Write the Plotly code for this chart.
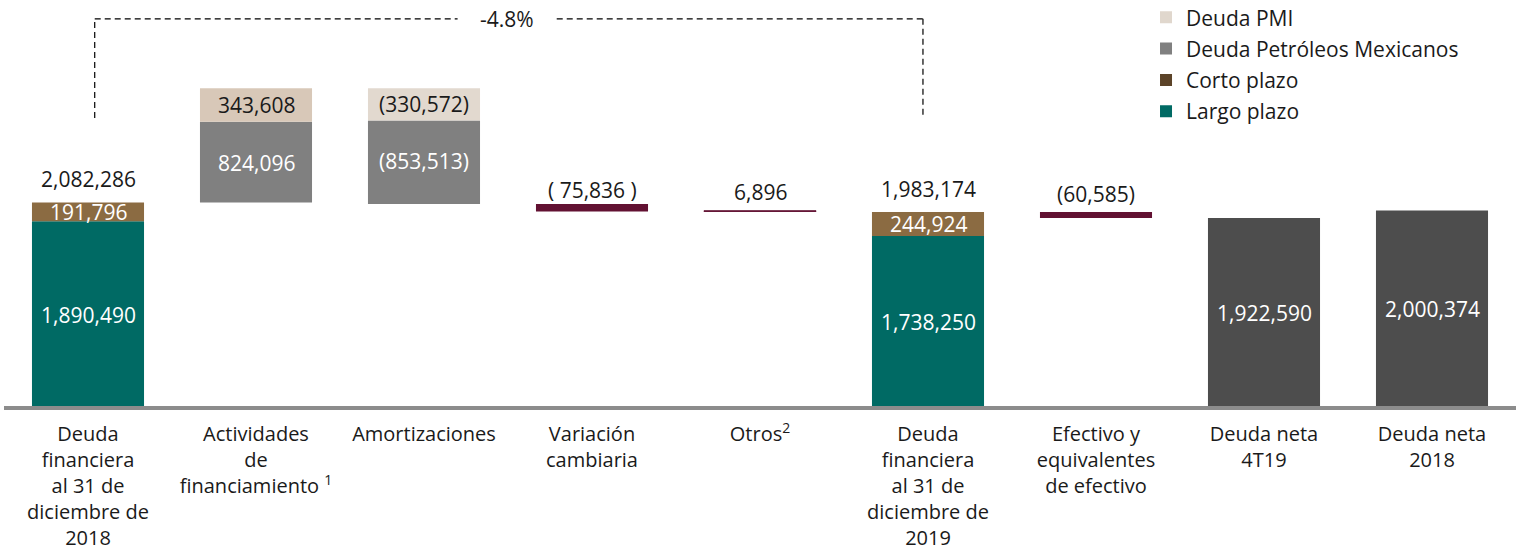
import plotly.graph_objects as go

# Category labels along the horizontal axis
categories = [
    "Deuda<br>financiera<br>al 31 de<br>diciembre de<br>2018",
    "Actividades<br>de<br>financiamiento <sup>1</sup>",
    "Amortizaciones",
    "Variación<br>cambiaria",
    "Otros<sup>2</sup>",
    "Deuda<br>financiera<br>al 31 de<br>diciembre de<br>2019",
    "Efectivo y<br>equivalentes<br>de efectivo",
    "Deuda neta<br>4T19",
    "Deuda neta<br>2018",
]

# Balances (millones de pesos): 31 dic 2018, 31 dic 2019
largo_plazo = [1890490, 1738250]
corto_plazo = [191796, 244924]

# Movements during the year
financiamiento = {"pemex": 824096, "pmi": 343608}
amortizaciones = {"pemex": -853513, "pmi": -330572}
variacion_cambiaria = -75836
otros = 6896
efectivo = -60585

# Net debt
deuda_neta = [1922590, 2000374]   # 4T19, 2018
variacion_pct = "-4.8%"

# Colours
C_LARGO = "#006A64"
C_CORTO = "#8B6B42"
C_CORTO_LEG = "#5C4328"
C_PEMEX = "#808080"
C_PMI = ["#D8C8B8", "#E2D9CF"]
C_PMI_LEG = "#E0D7CD"
C_GUINDA = "#621132"
C_NETA = "#4D4D4D"
FONT = "Open Sans"
FS = 21
FS_TICK = 20
BAR_W = 0.667


def fmt(v, pad=False):
    s = f"{abs(v):,}"
    if v < 0:
        return f"( {s} )" if pad else f"({s})"
    return s


# Running levels of the waterfall
inicio = largo_plazo[0] + corto_plazo[0]
nivel_fin = inicio + financiamiento["pemex"] + financiamiento["pmi"]
nivel_amort = nivel_fin + amortizaciones["pmi"] + amortizaciones["pemex"]
nivel_var = nivel_amort + variacion_cambiaria
nivel_otros = nivel_var + otros
total_2019 = largo_plazo[1] + corto_plazo[1]
nivel_efectivo = total_2019 + efectivo

fig = go.Figure()

# Legend entries (square swatches)
for name, col in [("Deuda PMI", C_PMI_LEG), ("Deuda Petróleos Mexicanos", C_PEMEX),
                  ("Corto plazo", C_CORTO_LEG), ("Largo plazo", C_LARGO)]:
    fig.add_trace(go.Scatter(x=[None], y=[None], name=name, mode="markers",
                             marker=dict(symbol="square", size=12, color=col,
                                         line=dict(width=0)),
                             legendgroup=name, showlegend=True, hoverinfo="skip"))

bar = dict(width=BAR_W, showlegend=False, marker_line_width=0)

fig.add_trace(go.Bar(x=[0, 5], y=largo_plazo, base=[0, 0],
                     marker_color=C_LARGO, name="Largo plazo", **bar))
fig.add_trace(go.Bar(x=[0, 5], y=corto_plazo, base=largo_plazo,
                     marker_color=C_CORTO, name="Corto plazo", **bar))
fig.add_trace(go.Bar(x=[1, 2],
                     y=[financiamiento["pemex"], -amortizaciones["pemex"]],
                     base=[inicio, nivel_amort],
                     marker_color=C_PEMEX, name="Deuda Petróleos Mexicanos", **bar))
fig.add_trace(go.Bar(x=[1, 2],
                     y=[financiamiento["pmi"], -amortizaciones["pmi"]],
                     base=[inicio + financiamiento["pemex"], nivel_fin + amortizaciones["pmi"]],
                     marker_color=C_PMI, name="Deuda PMI", **bar))
fig.add_trace(go.Bar(x=[3, 6], y=[-variacion_cambiaria, -efectivo],
                     base=[nivel_var, nivel_efectivo],
                     marker_color=C_GUINDA, name="Variación", **bar))
fig.add_trace(go.Bar(x=[4], y=[otros], base=[nivel_var], width=BAR_W,
                     marker=dict(color=C_GUINDA, line=dict(color=C_GUINDA, width=1)),
                     showlegend=False, name="Otros"))
fig.add_trace(go.Bar(x=[7, 8], y=deuda_neta, base=[0, 0],
                     marker_color=C_NETA, name="Deuda neta", **bar))

# Value labels
DARK = "#1A1A1A"
WHITE = "#FFFFFF"
labels = [
    # x, y, text, colour, yshift
    (0, inicio, fmt(inicio), DARK, 23),
    (0, largo_plazo[0] + corto_plazo[0] / 2, fmt(corto_plazo[0]), WHITE, 0),
    (0, largo_plazo[0] / 2, fmt(largo_plazo[0]), WHITE, -1),
    (1, inicio + financiamiento["pemex"] + financiamiento["pmi"] / 2, fmt(financiamiento["pmi"]), DARK, 0),
    (1, inicio + financiamiento["pemex"] / 2, fmt(financiamiento["pemex"]), WHITE, -1),
    (2, nivel_fin + amortizaciones["pmi"] / 2, fmt(amortizaciones["pmi"]), DARK, 0),
    (2, nivel_amort - amortizaciones["pemex"] / 2, fmt(amortizaciones["pemex"]), WHITE, 1),
    (3, nivel_amort, fmt(variacion_cambiaria, pad=True), DARK, 14),
    (4, nivel_otros, fmt(otros), DARK, 19),
    (5, total_2019, fmt(total_2019), DARK, 23),
    (5, largo_plazo[1] + corto_plazo[1] / 2, fmt(corto_plazo[1]), WHITE, 0),
    (5, largo_plazo[1] / 2, fmt(largo_plazo[1]), WHITE, -1),
    (6, total_2019, fmt(efectivo), DARK, 18),
    (7, deuda_neta[0] / 2, fmt(deuda_neta[0]), WHITE, -1),
    (8, deuda_neta[1] / 2, fmt(deuda_neta[1]), WHITE, -1),
]
for x, y, t, c, ys in labels:
    fig.add_annotation(x=x, y=y, text=t, showarrow=False, yshift=ys,
                       xanchor="center", yanchor="middle",
                       font=dict(family=FONT, size=FS, color=c))

# Bracket comparing the two year-end balances
Y_TOP = 3960000
Y_LOW = 2946000
XL, XR = 0.04, 4.97
GAP_L, GAP_R = 2.20, 2.79
dash = dict(color="#000000", width=1.2, dash="6px,4px")
for x0, y0, x1, y1 in [(XL, Y_LOW, XL, Y_TOP), (XL, Y_TOP, GAP_L, Y_TOP),
                       (GAP_R, Y_TOP, XR, Y_TOP), (XR, Y_TOP, XR, Y_LOW)]:
    fig.add_shape(type="line", x0=x0, y0=y0, x1=x1, y1=y1, xref="x", yref="y", line=dash)
fig.add_annotation(x=(GAP_L + GAP_R) / 2, y=Y_TOP, text=variacion_pct, showarrow=False,
                   xanchor="center", yanchor="middle",
                   font=dict(family=FONT, size=FS, color=DARK))

fig.update_layout(
    width=1520, height=554,
    margin=dict(l=4, r=4, t=0, b=148, autoexpand=False),
    paper_bgcolor="white", plot_bgcolor="white",
    barmode="overlay",
    font=dict(family=FONT, size=FS, color=DARK),
    legend=dict(x=0.7553, y=1.007, xanchor="left", yanchor="top",
                traceorder="grouped", tracegroupgap=1,
                font=dict(family=FONT, size=FS, color=DARK),
                bgcolor="rgba(0,0,0,0)"),
    xaxis=dict(range=[-0.5, 8.5], tickmode="array", tickvals=list(range(len(categories))),
               ticktext=categories, showgrid=False, zeroline=False,
               showline=True, linecolor="#8C8C8C", linewidth=4,
               ticks="", ticklabelstandoff=7, fixedrange=True, automargin=False,
               tickfont=dict(family=FONT, size=FS_TICK, color=DARK)),
    yaxis=dict(range=[0, 4153000], visible=False, showgrid=False, zeroline=False,
               fixedrange=True, automargin=False),
    showlegend=True,
)

fig.write_html("out.html")
